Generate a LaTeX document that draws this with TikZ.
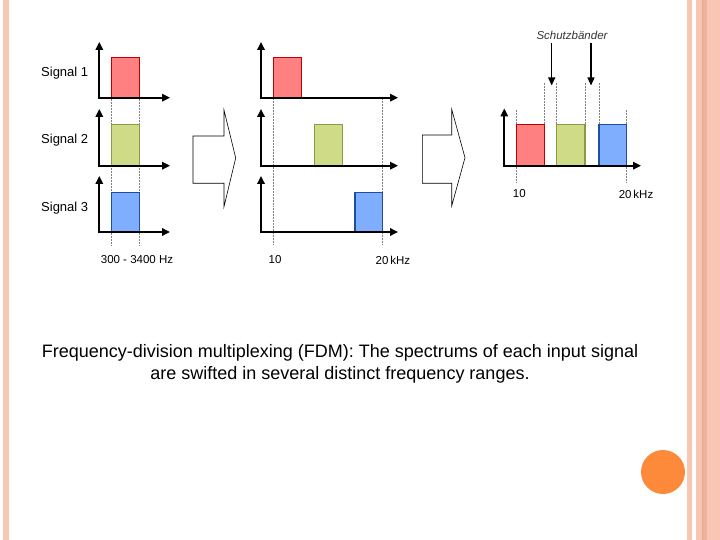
\documentclass[tikz,border=0pt]{standalone}
\usepackage{fontspec}
\setmainfont{Liberation Sans}
\usetikzlibrary{arrows.meta}
\definecolor{stripe}{HTML}{F8C6B2}
\definecolor{stripedark}{HTML}{E9A68C}
\definecolor{dot}{HTML}{FD8A3A}
\definecolor{redfill}{HTML}{FF8080}
\definecolor{redline}{HTML}{C00000}
\definecolor{grnfill}{HTML}{CFDB86}
\definecolor{grnline}{HTML}{8C9A45}
\definecolor{blufill}{HTML}{7FAEFF}
\definecolor{bluline}{HTML}{1F4E9E}
\begin{document}
\begin{tikzpicture}[x=1pt,y=-1pt,
  axis/.style={line width=1.8pt,line join=miter,{Triangle[length=8pt,width=7.5pt]}-{Triangle[length=8pt,width=7.5pt]}},
  band/.style={line width=1.4pt},
  guide/.style={gray,line width=0.5pt,densely dotted},
  hollow/.style={draw=black,line width=0.6pt,fill=white},
  lbl/.style={font=\fontsize{13}{15}\selectfont,anchor=west,inner sep=0pt},
  tick/.style={font=\fontsize{11.5}{13}\selectfont,inner sep=0pt},
  caption/.style={font=\fontsize{18}{22}\selectfont,align=center,inner sep=0pt},
  guard/.style={line width=1.2pt,-{Triangle[length=8pt,width=7pt]}}]
\useasboundingbox (0,0) rectangle (720,540);
% slide decoration
\fill[stripe] (3,0) rectangle (9,540);
\fill[stripe] (687,0) rectangle (692,540);
\fill[stripe] (696,0) rectangle (720,540);
\fill[stripedark!60!stripe] (702,0) rectangle (707,540);
\draw[stripedark,line width=0.6pt] (702.5,0) -- (702.5,540);
\fill[dot] (663,472) circle (22);
% ---------- panel 1
\draw[guide] (111.7,57) -- (111.7,246);
\draw[guide] (139.3,57) -- (139.3,246);
\filldraw[band,fill=redfill,draw=redline] (111.7,57.3) rectangle (139.3,97.7);
\filldraw[band,fill=grnfill,draw=grnline] (111.7,124.7) rectangle (139.3,165.7);
\filldraw[band,fill=blufill,draw=bluline] (111.7,192.3) rectangle (139.3,232);
\draw[axis] (99.3,42) -- (99.3,97.7) -- (170,97.7);
\draw[axis] (99.3,109) -- (99.3,165.7) -- (170,165.7);
\draw[axis] (99.3,176) -- (99.3,232) -- (170,232);
\node[lbl] (s1) at (41,73) {Signal 1};
\node[lbl] (s2) at (41,140.5) {Signal 2};
\node[lbl] (s3) at (41,208) {Signal 3};
\node[tick] (f1) at (137,260) {300 - 3400 Hz};
% ---------- arrow 1
\draw[hollow] (193,136) -- (224,136) -- (224,110) -- (235.7,158) -- (224,206.7) -- (224,183.3) -- (193,183.3) -- cycle;
% ---------- panel 2
\draw[guide] (273.7,98) -- (273.7,244);
\draw[guide] (382.3,98) -- (382.3,244);
\filldraw[band,fill=redfill,draw=redline] (273.7,57.3) rectangle (301.3,97.7);
\filldraw[band,fill=grnfill,draw=grnline] (314.3,124.7) rectangle (342.7,165.7);
\filldraw[band,fill=blufill,draw=bluline] (355,192.3) rectangle (382.3,232);
\draw[axis] (261,42) -- (261,97.7) -- (398,97.7);
\draw[axis] (261,109) -- (261,165.7) -- (398,165.7);
\draw[axis] (261,176) -- (261,232) -- (398,232);
\node[tick] (f2) at (275,260) {10};
\node[tick] (f3) at (393,260) {20\,kHz};
% ---------- arrow 2
\draw[hollow] (422.3,135) -- (451.7,135) -- (451.7,109.3) -- (465,157.7) -- (451.7,206) -- (451.7,183.3) -- (422.3,183.3) -- cycle;
% ---------- panel 3
\foreach \x in {516.7,626.7} \draw[guide] (\x,110) -- (\x,183);
\foreach \x in {544.3,556.7,585,599} \draw[guide] (\x,83) -- (\x,165);
\filldraw[band,fill=redfill,draw=redline] (516.7,124.3) rectangle (544.3,165.7);
\filldraw[band,fill=grnfill,draw=grnline] (556.7,124.3) rectangle (585,165.7);
\filldraw[band,fill=blufill,draw=bluline] (599,124.3) rectangle (626.7,165.7);
\draw[axis] (504.3,108.5) -- (504.3,165.7) -- (641,165.7);
\node[tick] (f4) at (519.3,194) {10};
\node[tick] (f5) at (636,194) {20\,kHz};
\node[font=\fontsize{11.5}{13}\selectfont\itshape,text=black!80,inner sep=0pt] (sb) at (572,35) {Schutzbänder};
\coordinate (g1) at (551.7,85.5);
\coordinate (g2) at (591,85.5);
\draw[guard] (g1 |- 0,43) -- (g1);
\draw[guard] (g2 |- 0,43) -- (g2);
% ---------- caption
\node[caption] (cap) at (340,364) {Frequency-division multiplexing (FDM): The spectrums of each input signal\\are swifted in several distinct frequency ranges.};
\end{tikzpicture}
\end{document}
